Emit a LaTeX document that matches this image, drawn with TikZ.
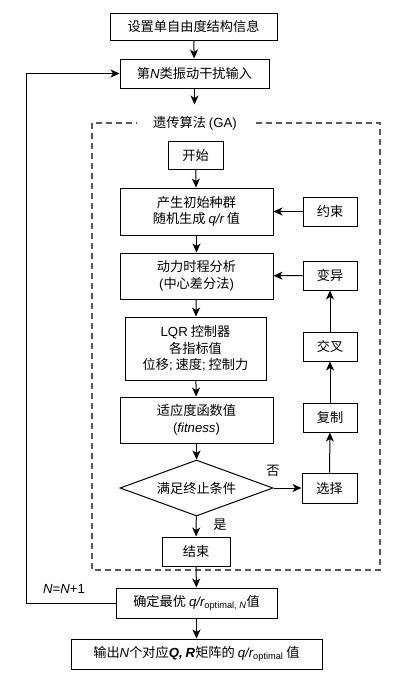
\documentclass[tikz,border=0pt]{standalone}
\usepackage{fontspec}
\setmainfont{Noto Sans CJK SC}
\newfontfamily\latf{Liberation Sans}
\usetikzlibrary{shapes.geometric,arrows.meta}
\newcommand\La[1]{{\latf #1}}
\newcommand\Li[1]{{\latf\itshape #1}}
\newcommand\Lb[1]{{\latf\bfseries\itshape #1}}
\begin{document}
\begin{tikzpicture}[x=1pt,y=-1pt,
  box/.style={draw=black,line width=1pt,inner sep=0pt,align=center,fill=white,
    font=\fontsize{13.2}{16.5}\selectfont},
  arr/.style={-{Stealth[length=9pt,width=8pt,inset=2.5pt]},line width=1pt},
  lbl/.style={inner sep=0pt,font=\fontsize{13.2}{16.5}\selectfont},
  gabox/.style={draw=black!65,line width=1.4pt,dash pattern=on 6pt off 4pt}]
\useasboundingbox (0,0) rectangle (402,678);
\fill[white] (0,0) rectangle (402,678);
% dashed GA region
\draw[gabox] (92,123) rectangle (380,570);
\node[lbl,fill=white,inner xsep=16pt,inner ysep=2pt] (ga) at (195,123) {遗传算法 \La{(GA)}};
% main column
\node[box,minimum width=167pt,minimum height=27pt] (b1) at (193.5,26.5) {设置单自由度结构信息};
\node[box,minimum width=149pt,minimum height=29pt] (b2) at (194.5,73.5) {第\Li{N}类振动干扰输入};
\node[box,minimum width=55pt,minimum height=28pt] (start) at (195.5,155) {开始};
\node[box,minimum width=153pt,minimum height=47pt] (init) at (196.5,211.5) {产生初始种群\\随机生成 \Li{q/r} 值};
\node[box,minimum width=153pt,minimum height=46pt] (dyn) at (196.5,276) {动力时程分析\\\La{(}中心差分法\La{)}};
\node[box,minimum width=141pt,minimum height=63pt] (lqr) at (195.5,348.5) {\La{LQR} 控制器\\各指标值\\位移\La{;} 速度\La{;} 控制力};
\node[box,minimum width=153pt,minimum height=46pt] (fit) at (196.5,420) {适应度函数值\\\La{(}\Li{fitness}\La{)}};
\node[box,diamond,aspect=2.7,minimum width=153pt,minimum height=56pt] (cond) at (196.5,488) {满足终止条件};
\node[box,minimum width=68pt,minimum height=29pt] (end) at (196,551.5) {结束};
\node[box,minimum width=161pt,minimum height=30pt] (opt) at (196.5,603) {确定最优 \Li{q/r}\textsubscript{\La{optimal, }\Li{N}}值};
\node[box,minimum width=251pt,minimum height=30pt] (out) at (196.5,654) {输出\Li{N}个对应\Lb{Q,} \Lb{R}矩阵的 \Li{q/r}\textsubscript{\La{optimal}} 值};
% right column
\node[box,minimum width=54pt,minimum height=29pt] (ys) at (330,211.5) {约束};
\node[box,minimum width=54pt,minimum height=29pt] (by) at (330,275.5) {变异};
\node[box,minimum width=54pt,minimum height=29pt] (jc) at (330,346.5) {交叉};
\node[box,minimum width=54pt,minimum height=29pt] (fz) at (330,417.5) {复制};
\node[box,minimum width=55pt,minimum height=30pt] (xz) at (329.5,488) {选择};
% labels
\node[lbl] (no) at (273,471) {否};
\node[lbl] (yes) at (220,525) {是};
\node[lbl] (nn) at (64,589) {\Li{N}\La{=}\Li{N}\La{+1}};
% connectors
\path (b2.south) ++(0,16) coordinate (gain);
\coordinate (lp) at (26,0);
\draw[arr] (b1) -- (b2);
\draw[arr] (b2) -- (gain);
\draw[arr] (start) -- (init);
\draw[arr] (init) -- (dyn);
\draw[arr] (dyn) -- (lqr);
\draw[arr] (lqr) -- (fit);
\draw[arr] (fit) -- (cond);
\draw[arr] (cond) -- (end);
\draw[arr] (end) -- (opt);
\draw[arr] (opt) -- (out);
\draw[arr] (ys) -- (init);
\draw[arr] (by) -- (dyn);
\draw[arr] (jc) -- (by);
\draw[arr] (fz) -- (jc);
\draw[arr] (xz) -- (fz);
\draw[arr] (cond) -- (xz);
\draw[arr] (opt.west) -- (opt.west -| lp) |- (b2.west);
\end{tikzpicture}
\end{document}
